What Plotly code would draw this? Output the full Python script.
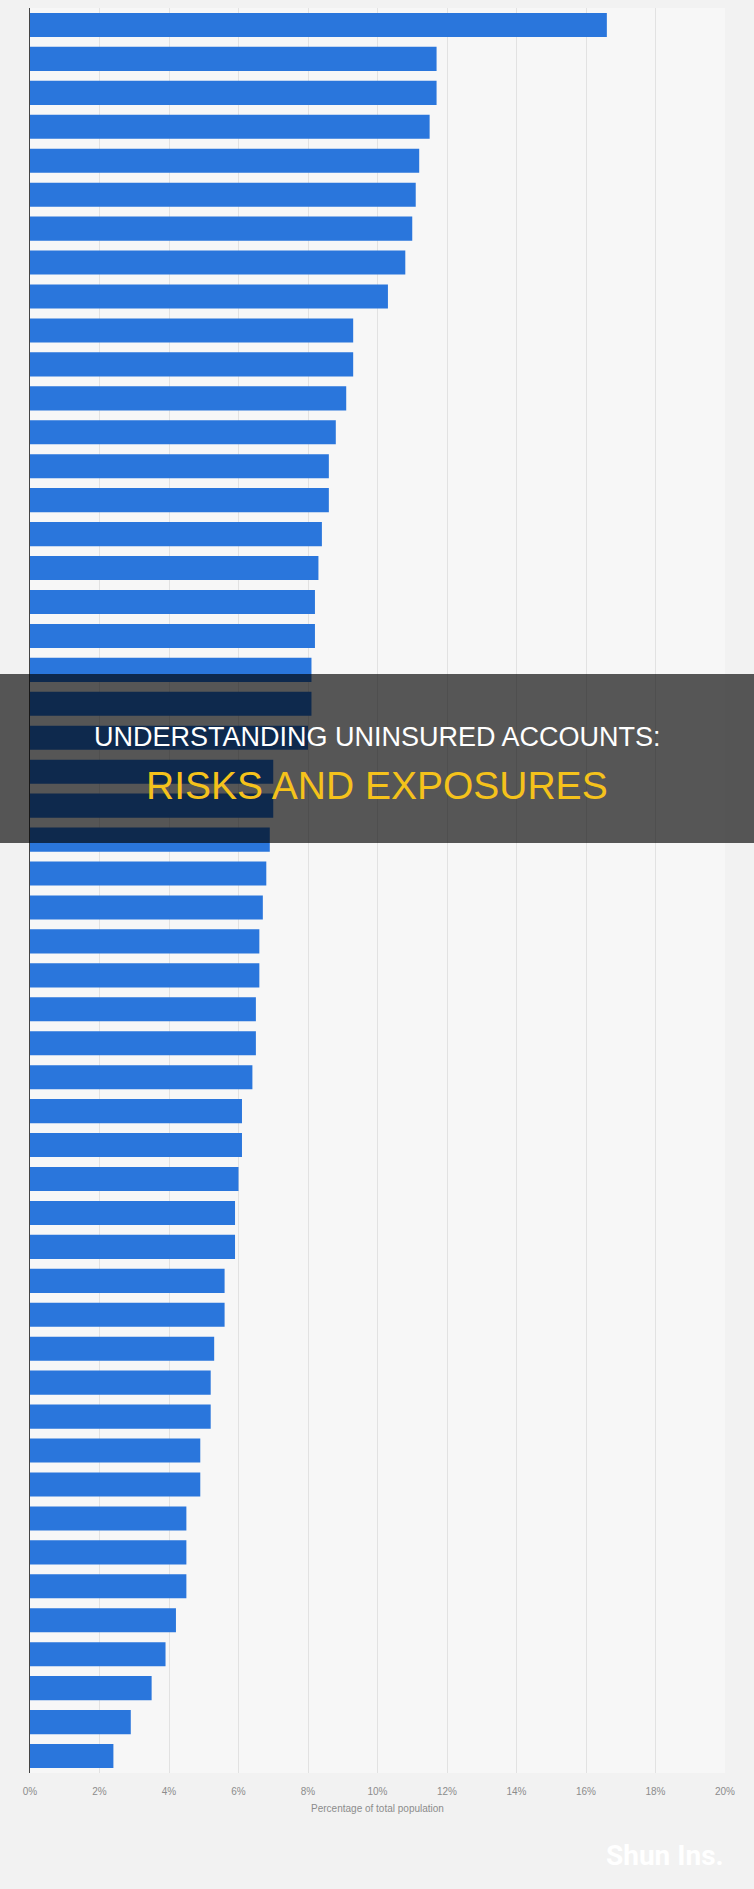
import plotly.graph_objects as go

# Ranked entries (labels not visible in the reference)
categories = [f"Rank {i}" for i in range(1, 53)]
values = [16.6, 11.7, 11.7, 11.5, 11.2, 11.1, 11.0, 10.8, 10.3, 9.3,
          9.3, 9.1, 8.8, 8.6, 8.6, 8.4, 8.3, 8.2, 8.2, 8.1,
          8.1, 8.0, 7.0, 7.0, 6.9, 6.8, 6.7, 6.6, 6.6, 6.5,
          6.5, 6.4, 6.1, 6.1, 6.0, 5.9, 5.9, 5.6, 5.6, 5.3,
          5.2, 5.2, 4.9, 4.9, 4.5, 4.5, 4.5, 4.2, 3.9, 3.5,
          2.9, 2.4]
tick_vals = [0, 2, 4, 6, 8, 10, 12, 14, 16, 18, 20]
tick_text = [f"{v}%" for v in tick_vals]
x_title = "Percentage of total population"
banner_line1 = "UNDERSTANDING UNINSURED ACCOUNTS:"
banner_line2 = "RISKS AND EXPOSURES"
watermark = "Shun Ins."

W, H = 754, 1889
ml, mr, mt, mb = 30, 29, 8, 116
pw = W - ml - mr
ph = H - mt - mb

def px_x(x):
    return (x - ml) / pw

def px_y(y):
    return (H - mb - y) / ph

sans = "Liberation Sans, Arial, Helvetica, sans-serif"

fig = go.Figure(go.Bar(
    x=values, y=categories, orientation="h",
    marker=dict(color="#2a76dc", line=dict(width=0)),
    hoverinfo="x+y",
))

fig.update_layout(
    width=W, height=H,
    margin=dict(l=ml, r=mr, t=mt, b=mb),
    paper_bgcolor="#f2f2f2",
    plot_bgcolor="#f7f7f7",
    bargap=0.29,
    showlegend=False,
    font=dict(family=sans, color="#888888"),
    xaxis=dict(
        range=[0, 20], tickvals=tick_vals, ticktext=tick_text,
        showgrid=True, gridcolor="#e2e2e2", gridwidth=1,
        zeroline=False, showline=False,
        ticks="outside", ticklen=9, tickcolor="rgba(0,0,0,0)",
        tickfont=dict(size=10, color="#8c8c8c", family=sans),
        title=dict(text=x_title, font=dict(size=10, color="#8c8c8c", family=sans), standoff=8),
        fixedrange=True,
    ),
    yaxis=dict(
        autorange="reversed", showticklabels=False, ticks="",
        showgrid=False, zeroline=False,
        showline=True, linecolor="#444444", linewidth=1,
        fixedrange=True,
    ),
    shapes=[dict(
        type="rect", xref="paper", yref="paper", layer="above",
        x0=px_x(0), x1=px_x(W), y0=px_y(843), y1=px_y(674),
        fillcolor="rgba(0,0,0,0.65)", line=dict(width=0),
    )],
    annotations=[
        dict(text=banner_line1, xref="paper", yref="paper",
             x=px_x(W / 2), y=px_y(737), showarrow=False,
             xanchor="center", yanchor="middle",
             font=dict(family=sans, size=27, color="#ffffff")),
        dict(text=banner_line2, xref="paper", yref="paper",
             x=px_x(W / 2), y=px_y(785), showarrow=False,
             xanchor="center", yanchor="middle",
             font=dict(family=sans, size=39, color="#f5c21b")),
        dict(text="<b>" + watermark + "</b>", xref="paper", yref="paper",
             x=px_x(726), y=px_y(1855), showarrow=False,
             xanchor="right", yanchor="middle",
             font=dict(family="Roboto, sans-serif", size=28, color="#ffffff")),
    ],
)

fig.write_html("out.html")
